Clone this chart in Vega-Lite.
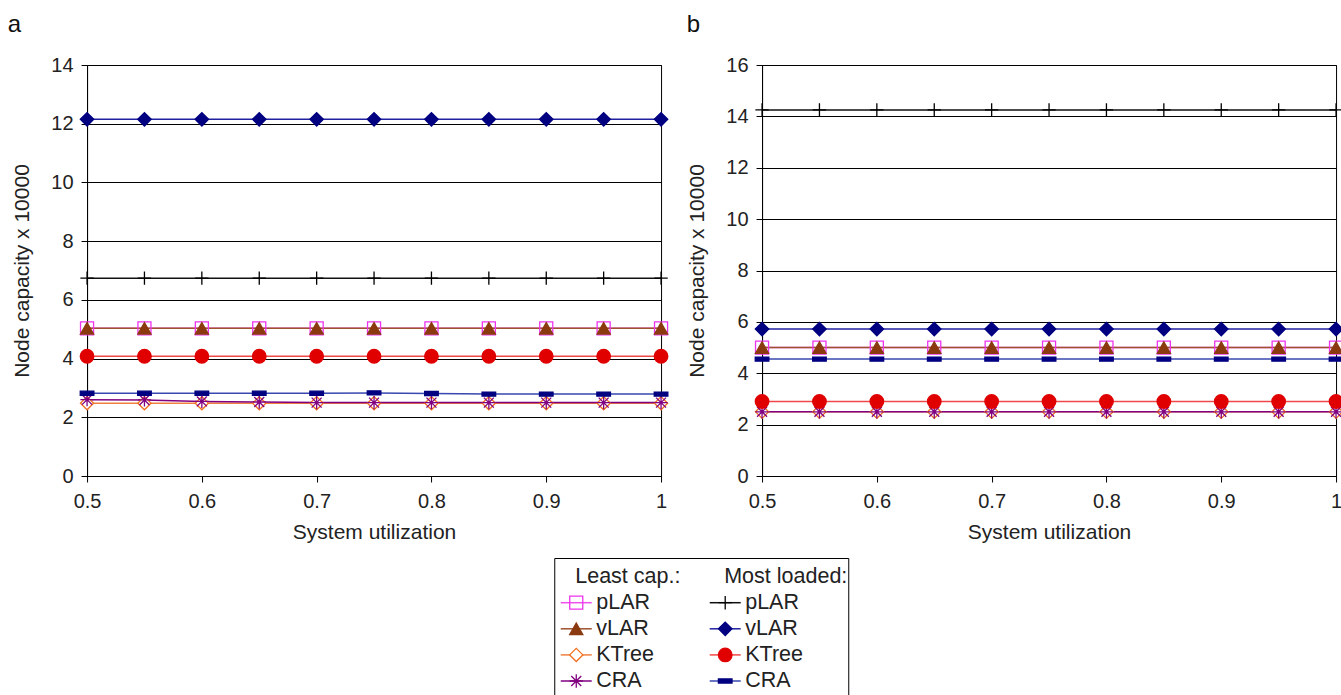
{
  "$schema": "https://vega.github.io/schema/vega-lite/v6.json",
  "padding": {"left": 7, "top": 12, "right": 0, "bottom": 0},
  "background": "white",
  "datasets": {
    "a": [
      {"s":"LC pLAR","u":0.5,"v":5.03},{"s":"LC pLAR","u":0.55,"v":5.03},{"s":"LC pLAR","u":0.6,"v":5.03},{"s":"LC pLAR","u":0.65,"v":5.03},{"s":"LC pLAR","u":0.7,"v":5.03},{"s":"LC pLAR","u":0.75,"v":5.03},{"s":"LC pLAR","u":0.8,"v":5.03},{"s":"LC pLAR","u":0.85,"v":5.03},{"s":"LC pLAR","u":0.9,"v":5.03},{"s":"LC pLAR","u":0.95,"v":5.03},{"s":"LC pLAR","u":1.0,"v":5.03},
      {"s":"LC vLAR","u":0.5,"v":5.03},{"s":"LC vLAR","u":0.55,"v":5.03},{"s":"LC vLAR","u":0.6,"v":5.03},{"s":"LC vLAR","u":0.65,"v":5.03},{"s":"LC vLAR","u":0.7,"v":5.03},{"s":"LC vLAR","u":0.75,"v":5.03},{"s":"LC vLAR","u":0.8,"v":5.03},{"s":"LC vLAR","u":0.85,"v":5.03},{"s":"LC vLAR","u":0.9,"v":5.03},{"s":"LC vLAR","u":0.95,"v":5.03},{"s":"LC vLAR","u":1.0,"v":5.03},
      {"s":"LC KTree","u":0.5,"v":2.48},{"s":"LC KTree","u":0.55,"v":2.48},{"s":"LC KTree","u":0.6,"v":2.48},{"s":"LC KTree","u":0.65,"v":2.48},{"s":"LC KTree","u":0.7,"v":2.48},{"s":"LC KTree","u":0.75,"v":2.48},{"s":"LC KTree","u":0.8,"v":2.48},{"s":"LC KTree","u":0.85,"v":2.48},{"s":"LC KTree","u":0.9,"v":2.48},{"s":"LC KTree","u":0.95,"v":2.48},{"s":"LC KTree","u":1.0,"v":2.48},
      {"s":"LC CRA","u":0.5,"v":2.6},{"s":"LC CRA","u":0.55,"v":2.59},{"s":"LC CRA","u":0.6,"v":2.54},{"s":"LC CRA","u":0.65,"v":2.52},{"s":"LC CRA","u":0.7,"v":2.5},{"s":"LC CRA","u":0.75,"v":2.5},{"s":"LC CRA","u":0.8,"v":2.5},{"s":"LC CRA","u":0.85,"v":2.5},{"s":"LC CRA","u":0.9,"v":2.5},{"s":"LC CRA","u":0.95,"v":2.5},{"s":"LC CRA","u":1.0,"v":2.5},
      {"s":"ML pLAR","u":0.5,"v":6.74},{"s":"ML pLAR","u":0.55,"v":6.74},{"s":"ML pLAR","u":0.6,"v":6.74},{"s":"ML pLAR","u":0.65,"v":6.74},{"s":"ML pLAR","u":0.7,"v":6.74},{"s":"ML pLAR","u":0.75,"v":6.74},{"s":"ML pLAR","u":0.8,"v":6.74},{"s":"ML pLAR","u":0.85,"v":6.74},{"s":"ML pLAR","u":0.9,"v":6.74},{"s":"ML pLAR","u":0.95,"v":6.74},{"s":"ML pLAR","u":1.0,"v":6.74},
      {"s":"ML vLAR","u":0.5,"v":12.15},{"s":"ML vLAR","u":0.55,"v":12.15},{"s":"ML vLAR","u":0.6,"v":12.15},{"s":"ML vLAR","u":0.65,"v":12.15},{"s":"ML vLAR","u":0.7,"v":12.15},{"s":"ML vLAR","u":0.75,"v":12.15},{"s":"ML vLAR","u":0.8,"v":12.15},{"s":"ML vLAR","u":0.85,"v":12.15},{"s":"ML vLAR","u":0.9,"v":12.15},{"s":"ML vLAR","u":0.95,"v":12.15},{"s":"ML vLAR","u":1.0,"v":12.15},
      {"s":"ML KTree","u":0.5,"v":4.08},{"s":"ML KTree","u":0.55,"v":4.08},{"s":"ML KTree","u":0.6,"v":4.08},{"s":"ML KTree","u":0.65,"v":4.08},{"s":"ML KTree","u":0.7,"v":4.08},{"s":"ML KTree","u":0.75,"v":4.08},{"s":"ML KTree","u":0.8,"v":4.08},{"s":"ML KTree","u":0.85,"v":4.08},{"s":"ML KTree","u":0.9,"v":4.08},{"s":"ML KTree","u":0.95,"v":4.08},{"s":"ML KTree","u":1.0,"v":4.08},
      {"s":"ML CRA","u":0.5,"v":2.82},{"s":"ML CRA","u":0.55,"v":2.82},{"s":"ML CRA","u":0.6,"v":2.82},{"s":"ML CRA","u":0.65,"v":2.82},{"s":"ML CRA","u":0.7,"v":2.82},{"s":"ML CRA","u":0.75,"v":2.83},{"s":"ML CRA","u":0.8,"v":2.81},{"s":"ML CRA","u":0.85,"v":2.79},{"s":"ML CRA","u":0.9,"v":2.79},{"s":"ML CRA","u":0.95,"v":2.79},{"s":"ML CRA","u":1.0,"v":2.79}
    ],
    "b": [
      {"s":"LC pLAR","u":0.5,"v":5.0},{"s":"LC pLAR","u":0.55,"v":5.0},{"s":"LC pLAR","u":0.6,"v":5.0},{"s":"LC pLAR","u":0.65,"v":5.0},{"s":"LC pLAR","u":0.7,"v":5.0},{"s":"LC pLAR","u":0.75,"v":5.0},{"s":"LC pLAR","u":0.8,"v":5.0},{"s":"LC pLAR","u":0.85,"v":5.0},{"s":"LC pLAR","u":0.9,"v":5.0},{"s":"LC pLAR","u":0.95,"v":5.0},{"s":"LC pLAR","u":1.0,"v":5.0},
      {"s":"LC vLAR","u":0.5,"v":5.0},{"s":"LC vLAR","u":0.55,"v":5.0},{"s":"LC vLAR","u":0.6,"v":5.0},{"s":"LC vLAR","u":0.65,"v":5.0},{"s":"LC vLAR","u":0.7,"v":5.0},{"s":"LC vLAR","u":0.75,"v":5.0},{"s":"LC vLAR","u":0.8,"v":5.0},{"s":"LC vLAR","u":0.85,"v":5.0},{"s":"LC vLAR","u":0.9,"v":5.0},{"s":"LC vLAR","u":0.95,"v":5.0},{"s":"LC vLAR","u":1.0,"v":5.0},
      {"s":"LC KTree","u":0.5,"v":2.5},{"s":"LC KTree","u":0.55,"v":2.5},{"s":"LC KTree","u":0.6,"v":2.5},{"s":"LC KTree","u":0.65,"v":2.5},{"s":"LC KTree","u":0.7,"v":2.5},{"s":"LC KTree","u":0.75,"v":2.5},{"s":"LC KTree","u":0.8,"v":2.5},{"s":"LC KTree","u":0.85,"v":2.5},{"s":"LC KTree","u":0.9,"v":2.5},{"s":"LC KTree","u":0.95,"v":2.5},{"s":"LC KTree","u":1.0,"v":2.5},
      {"s":"LC CRA","u":0.5,"v":2.5},{"s":"LC CRA","u":0.55,"v":2.5},{"s":"LC CRA","u":0.6,"v":2.5},{"s":"LC CRA","u":0.65,"v":2.5},{"s":"LC CRA","u":0.7,"v":2.5},{"s":"LC CRA","u":0.75,"v":2.5},{"s":"LC CRA","u":0.8,"v":2.5},{"s":"LC CRA","u":0.85,"v":2.5},{"s":"LC CRA","u":0.9,"v":2.5},{"s":"LC CRA","u":0.95,"v":2.5},{"s":"LC CRA","u":1.0,"v":2.5},
      {"s":"ML pLAR","u":0.5,"v":14.25},{"s":"ML pLAR","u":0.55,"v":14.25},{"s":"ML pLAR","u":0.6,"v":14.25},{"s":"ML pLAR","u":0.65,"v":14.25},{"s":"ML pLAR","u":0.7,"v":14.25},{"s":"ML pLAR","u":0.75,"v":14.25},{"s":"ML pLAR","u":0.8,"v":14.25},{"s":"ML pLAR","u":0.85,"v":14.25},{"s":"ML pLAR","u":0.9,"v":14.25},{"s":"ML pLAR","u":0.95,"v":14.25},{"s":"ML pLAR","u":1.0,"v":14.25},
      {"s":"ML vLAR","u":0.5,"v":5.72},{"s":"ML vLAR","u":0.55,"v":5.72},{"s":"ML vLAR","u":0.6,"v":5.72},{"s":"ML vLAR","u":0.65,"v":5.72},{"s":"ML vLAR","u":0.7,"v":5.72},{"s":"ML vLAR","u":0.75,"v":5.72},{"s":"ML vLAR","u":0.8,"v":5.72},{"s":"ML vLAR","u":0.85,"v":5.72},{"s":"ML vLAR","u":0.9,"v":5.72},{"s":"ML vLAR","u":0.95,"v":5.72},{"s":"ML vLAR","u":1.0,"v":5.72},
      {"s":"ML KTree","u":0.5,"v":2.9},{"s":"ML KTree","u":0.55,"v":2.9},{"s":"ML KTree","u":0.6,"v":2.9},{"s":"ML KTree","u":0.65,"v":2.9},{"s":"ML KTree","u":0.7,"v":2.9},{"s":"ML KTree","u":0.75,"v":2.9},{"s":"ML KTree","u":0.8,"v":2.9},{"s":"ML KTree","u":0.85,"v":2.9},{"s":"ML KTree","u":0.9,"v":2.9},{"s":"ML KTree","u":0.95,"v":2.9},{"s":"ML KTree","u":1.0,"v":2.9},
      {"s":"ML CRA","u":0.5,"v":4.55},{"s":"ML CRA","u":0.55,"v":4.55},{"s":"ML CRA","u":0.6,"v":4.55},{"s":"ML CRA","u":0.65,"v":4.55},{"s":"ML CRA","u":0.7,"v":4.55},{"s":"ML CRA","u":0.75,"v":4.55},{"s":"ML CRA","u":0.8,"v":4.55},{"s":"ML CRA","u":0.85,"v":4.55},{"s":"ML CRA","u":0.9,"v":4.55},{"s":"ML CRA","u":0.95,"v":4.55},{"s":"ML CRA","u":1.0,"v":4.55}
    ],
    "legend": [
      {"col":0,"row":0,"label":"Least cap.:"},
      {"col":1,"row":0,"label":"Most loaded:"},
      {"s":"LC pLAR","col":0,"row":1,"label":"pLAR"},
      {"s":"LC vLAR","col":0,"row":2,"label":"vLAR"},
      {"s":"LC KTree","col":0,"row":3,"label":"KTree"},
      {"s":"LC CRA","col":0,"row":4,"label":"CRA"},
      {"s":"ML pLAR","col":1,"row":1,"label":"pLAR"},
      {"s":"ML vLAR","col":1,"row":2,"label":"vLAR"},
      {"s":"ML KTree","col":1,"row":3,"label":"KTree"},
      {"s":"ML CRA","col":1,"row":4,"label":"CRA"}
    ]
  },
  "vconcat": [
    {
      "hconcat": [
        {
          "width": 574, "height": 411,
          "title": {"text": "a", "anchor": "start", "frame": "bounds", "fontSize": 24, "fontWeight": "normal", "color": "#111", "baseline": "alphabetic", "offset": -1, "dx": -4},
          "data": {"name": "a"},
          "layer": [
            {
              "mark": {"type": "line", "strokeWidth": 1.5},
              "encoding": {
                "x": {"field": "u", "type": "quantitative", "scale": {"domain": [0.5, 1], "nice": false, "zero": false}, "axis": {"values": [0.5, 0.6, 0.7, 0.8, 0.9, 1], "format": "~g", "title": "System utilization", "labelFlush": false, "grid": false}},
                "y": {"field": "v", "type": "quantitative", "scale": {"domain": [0, 14], "nice": false, "zero": true}, "axis": {"values": [0, 2, 4, 6, 8, 10, 12, 14], "format": "d", "title": "Node capacity x 10000", "grid": true}},
                "color": {"field": "s", "type": "nominal", "legend": null, "scale": {"domain": ["LC pLAR","LC vLAR","LC KTree","LC CRA","ML pLAR","ML vLAR","ML KTree","ML CRA"], "range": ["#f050f0","#a0522d","#f08040","#800080","#111111","#2020a0","#f04848","#3848b0"]}}
              }
            },
            {
              "mark": {"type": "point", "opacity": 1, "strokeWidth": 1.3},
              "encoding": {
                "x": {"field": "u", "type": "quantitative"},
                "y": {"field": "v", "type": "quantitative"},
                "shape": {"field": "s", "type": "nominal", "legend": null, "scale": {"domain": ["LC pLAR","LC vLAR","LC KTree","LC CRA","ML pLAR","ML vLAR","ML KTree","ML CRA"], "range": ["square","triangle-up","diamond","M-1,0H1M0,-1V1M-0.75,-0.75L0.75,0.75M-0.75,0.75L0.75,-0.75","M-1,0H1M0,-1V1","diamond","circle","M-1,-0.3H1V0.3H-1Z"]}},
                "fill": {"field": "s", "type": "nominal", "legend": null, "scale": {"domain": ["LC pLAR","LC vLAR","LC KTree","LC CRA","ML pLAR","ML vLAR","ML KTree","ML CRA"], "range": ["transparent","#8b3a10","#ffffff","transparent","transparent","#000080","#e00000","#000080"]}},
                "stroke": {"field": "s", "type": "nominal", "legend": null, "scale": {"domain": ["LC pLAR","LC vLAR","LC KTree","LC CRA","ML pLAR","ML vLAR","ML KTree","ML CRA"], "range": ["#ee33ee","#8b3a10","#f07020","#800080","#000000","#000080","#e00000","#000080"]}},
                "size": {"field": "s", "type": "ordinal", "legend": null, "scale": {"domain": ["LC pLAR","LC vLAR","LC KTree","LC CRA","ML pLAR","ML vLAR","ML KTree","ML CRA"], "range": [170, 185, 150, 160, 170, 150, 180, 170]}}
              }
            }
          ]
        },
        {
          "width": 574, "height": 411,
          "title": {"text": "b", "anchor": "start", "frame": "bounds", "fontSize": 24, "fontWeight": "normal", "color": "#111", "baseline": "alphabetic", "offset": -1, "dx": 0},
          "data": {"name": "b"},
          "layer": [
            {
              "mark": {"type": "line", "strokeWidth": 1.5},
              "encoding": {
                "x": {"field": "u", "type": "quantitative", "scale": {"domain": [0.5, 1], "nice": false, "zero": false}, "axis": {"values": [0.5, 0.6, 0.7, 0.8, 0.9, 1], "format": "~g", "title": "System utilization", "labelFlush": false, "grid": false}},
                "y": {"field": "v", "type": "quantitative", "scale": {"domain": [0, 16], "nice": false, "zero": true}, "axis": {"values": [0, 2, 4, 6, 8, 10, 12, 14, 16], "format": "d", "title": "Node capacity x 10000", "grid": true}},
                "color": {"field": "s", "type": "nominal", "legend": null, "scale": {"domain": ["LC pLAR","LC vLAR","LC KTree","LC CRA","ML pLAR","ML vLAR","ML KTree","ML CRA"], "range": ["#f050f0","#a0522d","#f08040","#800080","#111111","#2020a0","#f04848","#3848b0"]}}
              }
            },
            {
              "mark": {"type": "point", "opacity": 1, "strokeWidth": 1.3},
              "encoding": {
                "x": {"field": "u", "type": "quantitative"},
                "y": {"field": "v", "type": "quantitative"},
                "shape": {"field": "s", "type": "nominal", "legend": null},
                "fill": {"field": "s", "type": "nominal", "legend": null},
                "stroke": {"field": "s", "type": "nominal", "legend": null},
                "size": {"field": "s", "type": "ordinal", "legend": null}
              }
            }
          ]
        }
      ],
      "spacing": 15
    },
    {
      "width": 294, "height": 145,
      "data": {"name": "legend"},
      "layer": [
        {
          "transform": [{"filter": "datum.row > 0"}],
          "mark": {"type": "tick", "orient": "horizontal", "size": 31, "thickness": 1.5, "opacity": 1},
          "encoding": {
            "x": {"field": "col", "type": "quantitative", "scale": {"domain": [-0.1477, 1.826], "nice": false, "zero": false}, "axis": null},
            "y": {"field": "row", "type": "quantitative", "scale": {"domain": [-0.713, 4.843], "nice": false, "zero": false, "reverse": true}, "axis": {"orient": "right", "domain": false, "ticks": false, "labels": false, "grid": false, "title": null, "minExtent": 30, "maxExtent": 30}},
            "color": {"field": "s", "type": "nominal", "legend": null}
          }
        },
        {
          "transform": [{"filter": "datum.row > 0"}],
          "mark": {"type": "point", "opacity": 1, "strokeWidth": 1.3},
          "encoding": {
            "x": {"field": "col", "type": "quantitative"},
            "y": {"field": "row", "type": "quantitative"},
            "shape": {"field": "s", "type": "nominal", "legend": null},
            "fill": {"field": "s", "type": "nominal", "legend": null},
            "stroke": {"field": "s", "type": "nominal", "legend": null},
            "size": {"field": "s", "type": "ordinal", "legend": null}
          }
        },
        {
          "transform": [{"filter": "datum.row > 0"}],
          "mark": {"type": "text", "align": "left", "baseline": "middle", "dx": 20, "fontSize": 21.5, "color": "#222"},
          "encoding": {
            "x": {"field": "col", "type": "quantitative"},
            "y": {"field": "row", "type": "quantitative"},
            "text": {"field": "label"}
          }
        },
        {
          "transform": [{"filter": "datum.row == 0"}],
          "mark": {"type": "text", "align": "left", "baseline": "middle", "dx": -1, "fontSize": 21.5, "color": "#222"},
          "encoding": {
            "x": {"field": "col", "type": "quantitative"},
            "y": {"field": "row", "type": "quantitative"},
            "text": {"field": "label"}
          }
        }
      ]
    }
  ],
  "spacing": 14,
  "center": true,
  "config": {
    "font": "Liberation Sans",
    "view": {"stroke": "#000000", "strokeWidth": 1},
    "axis": {
      "domainColor": "#000000", "tickColor": "#000000", "gridColor": "#000000", "gridOpacity": 1, "gridWidth": 1,
      "labelColor": "#222222", "titleColor": "#222222", "labelFontSize": 20, "titleFontSize": 21, "titleFontWeight": "normal",
      "tickSize": 6, "labelFont": "Liberation Sans", "titleFont": "Liberation Sans"
    },
    "axisX": {"labelPadding": 9, "titlePadding": 10},
    "axisY": {"labelPadding": 8, "titlePadding": 18},
    "title": {"font": "Liberation Sans"}
  }
}
